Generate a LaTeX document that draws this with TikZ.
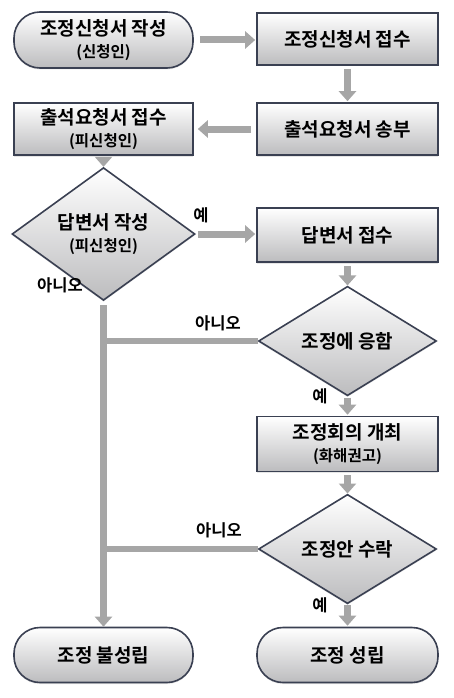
\documentclass[tikz,border=0pt]{standalone}
\usepackage{fontspec}
\setmainfont{Noto Sans CJK KR}[BoldFont={Noto Sans CJK KR Bold}]
\usetikzlibrary{shapes.geometric,arrows.meta,shadows}
\definecolor{edgec}{RGB}{58,64,82}
\definecolor{arrc}{RGB}{166,166,166}
\definecolor{botc}{RGB}{188,188,190}
\newcommand{\smtxt}{\fontsize{15.5}{22}\selectfont}
\begin{document}
\begin{tikzpicture}[x=1pt,y=-1pt,
  box/.style={draw=edgec,line width=1.6pt,top color=white,bottom color=botc,
    minimum width=181pt,minimum height=53pt,inner sep=0pt,align=center,
    font=\bfseries\fontsize{19}{22}\selectfont,
    drop shadow={opacity=0.2,shadow xshift=0pt,shadow yshift=-1.5pt}},
  stad/.style={box,rounded corners=26pt},
  dia/.style={box,diamond,minimum width=181pt,minimum height=84pt},
  flow/.style={draw=arrc,line width=7pt,-{Triangle[width=17pt,length=10pt]}},
  joinline/.style={draw=arrc,line width=6pt},
  lab/.style={font=\bfseries\fontsize{16.5}{18}\selectfont,inner sep=0pt}]
\useasboundingbox (0,0) rectangle (453,698);
% nodes
\node[stad,minimum width=179pt,minimum height=56pt] (n1) at (103.5,40) {조정신청서 작성\\{\smtxt (신청인)}};
\node[box,minimum height=52pt] (n2) at (347.5,39) {조정신청서 접수};
\node[box,minimum height=52pt] (n3) at (347.5,129) {출석요청서 송부};
\node[box,minimum width=179pt,minimum height=52pt] (n4) at (103.5,129) {출석요청서 접수\\{\smtxt (피신청인)}};
\node[dia,minimum width=183pt,minimum height=82pt] (d5) at (103.5,234) {답변서 작성\\{\smtxt (피신청인)}};
\node[box,minimum height=54pt] (n6) at (347.5,235) {답변서 접수};
\node[dia,minimum width=178pt,minimum height=88pt] (d7) at (347.5,341) {조정에 응함};
\node[box,minimum height=55pt] (n8) at (347.5,444) {조정회의 개최\\{\smtxt (화해권고)}};
\node[dia,minimum width=178pt,minimum height=82pt] (d9) at (347.5,549) {조정안 수락};
\node[stad,minimum width=179pt,minimum height=55pt] (n10) at (103.5,655) {조정 불성립};
\node[stad,minimum height=55pt] (n11) at (347.5,655) {조정 성립};
% connectors
\draw[flow,shorten <=6pt,shorten >=1pt] (n1.east) -- (n1.east -| n2.west);
\draw[flow,shorten <=3pt,shorten >=1pt] (n2.south) -- (n3.north);
\draw[flow,shorten <=5pt,shorten >=4pt] (n3.west) -- (n3.west -| n4.east);
\draw[flow,shorten <=4pt,shorten >=0pt] (n4.south) -- (d5.north);
\draw[flow,shorten <=2pt,shorten >=1pt] (d5.east) -- (d5.east -| n6.west);
\draw[joinline] (d7.west) -- (d7.west -| d5.south);
\draw[joinline] (d9.west) -- (d9.west -| d5.south);
\draw[flow,shorten <=4pt,shorten >=0pt] (d5.south) -- (n10.north);
\draw[flow,shorten <=3pt,shorten >=0pt] (n6.south) -- (d7.north);
\draw[flow,shorten <=1pt,shorten >=1pt] (d7.south) -- (n8.north);
\draw[flow,shorten <=3pt,shorten >=0pt] (n8.south) -- (d9.north);
\draw[flow,shorten <=1pt,shorten >=1pt] (d9.south) -- (n11.north);
% labels
\node[lab] (l1) at (201,215) {예};
\node[lab] (l2) at (60,285) {아니오};
\node[lab] (l3) at (218,323) {아니오};
\node[lab] (l4) at (320,396) {예};
\node[lab] (l5) at (219,530) {아니오};
\node[lab] (l6) at (320,605) {예};
\end{tikzpicture}
\end{document}
